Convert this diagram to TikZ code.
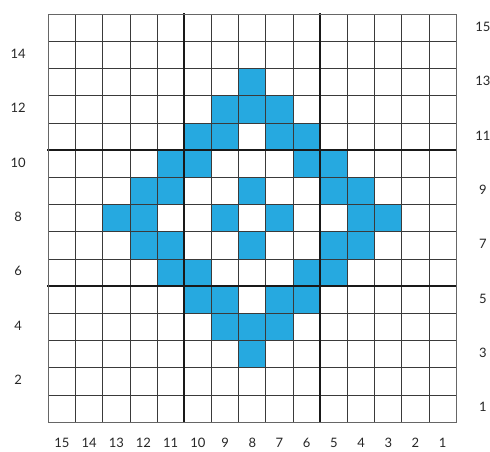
\documentclass[tikz,border=0pt]{standalone}
\usepackage{fontspec}
\setmainfont{Lato}
\definecolor{stitchblue}{HTML}{26A9E0}
\definecolor{gridline}{HTML}{3A3A3A}
\begin{document}
\begin{tikzpicture}[x=27.2pt,y=27.2pt,line cap=rect]
	\tikzset{lbl/.style={font=\fontsize{13}{13}\selectfont,text=black!85},
		cell/.style={fill=stitchblue},
		minor/.style={draw=gridline,line width=0.8pt},
		major/.style={draw=black!90,line width=1.8pt},
		frame/.style={draw=black!60,line width=1.3pt}}
	\useasboundingbox (-1.776,-1.092) rectangle (16.24,15.526);
	% stitches: column label / row label
	\foreach \c/\r in {8/13, 9/12,8/12,7/12, 10/11,9/11,7/11,6/11,
		11/10,10/10,6/10,5/10, 12/9,11/9,8/9,5/9,4/9,
		13/8,12/8,9/8,7/8,4/8,3/8, 12/7,11/7,8/7,5/7,4/7,
		11/6,10/6,6/6,5/6, 10/5,9/5,7/5,6/5, 9/4,8/4,7/4, 8/3}
		\fill[cell] ({15-\c},{\r-1}) rectangle ++(1,1);
	\foreach \k in {1,...,14} {
		\draw[minor] (\k,0)--(\k,15);
		\draw[minor] (0,\k)--(15,\k);
	}
	\foreach \k in {5,10} {
		\draw[major] (\k,0)--(\k,15);
		\draw[major] (0,\k)--(15,\k);
	}
	\draw[frame] (0,0) rectangle (15,15);
	% numbering
	\foreach \i in {1,...,15}
		\node[lbl] (col\i) at ({15.5-\i},-0.76) {\i};
	\foreach \i in {2,4,...,14}
		\node[lbl] (row\i) at (-1.11,{\i-0.45}) {\i};
	\foreach \i in {1,3,...,15}
		\node[lbl] (row\i) at (15.98,{\i-0.45}) {\i};
\end{tikzpicture}
\end{document}
